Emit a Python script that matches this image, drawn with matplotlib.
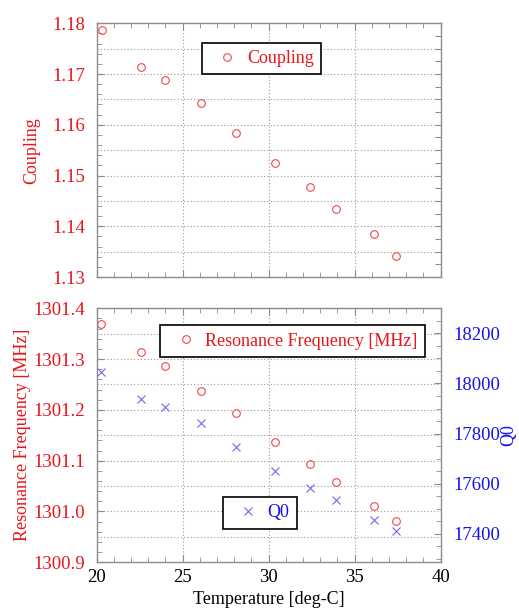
import matplotlib
matplotlib.use("Agg")
import matplotlib.pyplot as plt
import numpy as np
from matplotlib.ticker import MultipleLocator

plt.rcParams['font.family'] = ['Liberation Serif', 'DejaVu Serif']

temp_c = [20.3, 22.58, 23.99, 26.09, 28.1, 30.39, 32.4, 33.9, 36.1, 37.4]
coupling = [1.1787, 1.1713, 1.1688, 1.1643, 1.1584, 1.1524, 1.1477, 1.1435, 1.1384, 1.1342]

temp_b = [20.25, 22.59, 23.98, 26.07, 28.08, 30.37, 32.38, 33.91, 36.11, 37.39]
freq = [1301.369, 1301.313, 1301.287, 1301.237, 1301.193, 1301.137, 1301.094, 1301.0575, 1301.011, 1300.981]
q0 = [18044, 17938, 17905, 17841, 17745, 17651, 17582, 17534, 17457, 17410]

RED = '#e8141c'
BLUE = '#1414e6'
MRED = '#f04848'
MBLUE = '#6a6af0'
SPINE = '#8c8c8c'
TFS = 13.5
LFS = 13

fig = plt.figure(figsize=(5.19, 6.08), dpi=100)

def style(ax):
    for s in ax.spines.values():
        s.set_color(SPINE)
        s.set_linewidth(1.0)
    ax.tick_params(which='both', direction='in', color=SPINE, top=True, labelsize=TFS)
    ax.tick_params(which='major', length=5)
    ax.tick_params(which='minor', length=3.5)
    ax.tick_params(axis='y', pad=8)
    ax.tick_params(axis='x', pad=5)

def legstyle(leg, color):
    leg.get_frame().set_edgecolor('black')
    leg.get_frame().set_linewidth(1.2)
    for t in leg.get_texts():
        t.set_color(color)

LEGKW = dict(loc='center', fontsize=LFS, frameon=True, fancybox=False,
             handletextpad=0.1, borderpad=0.4, handlelength=2.0, framealpha=1)

# ---------- top panel ----------
ax1 = fig.add_axes([0.186, 0.5444, 0.663, 0.4173])
ax1.plot(temp_c, coupling, linestyle='none', marker='o', ms=5.5, mfc='none',
         mec=MRED, mew=0.8, label='Coupling')
ax1.set_xlim(20, 40)
ax1.set_ylim(1.13, 1.18)
style(ax1)
ax1.tick_params(right=False)
ax1.yaxis.set_minor_locator(MultipleLocator(0.002))
ax1.xaxis.set_major_locator(MultipleLocator(5))
ax1.xaxis.set_minor_locator(MultipleLocator(1))
ax1.tick_params(axis='x', labelbottom=False)
ax1.tick_params(axis='y', labelcolor=RED)
ax1.set_yticks(np.arange(1.13, 1.181, 0.01))
ax1.set_yticklabels([f"{v:.2f}" for v in np.arange(1.13, 1.181, 0.01)])
ax1.set_ylabel('Coupling', color=RED, fontsize=LFS, labelpad=9)
for x in [25, 30, 35]:
    ax1.axvline(x, color='#999999', ls=(0, (1, 2)), lw=0.8, zorder=0)
for y in np.arange(1.135, 1.18, 0.005):
    ax1.axhline(y, color='#999999', ls=(0, (1, 2)), lw=0.8, zorder=0)
ax1r = ax1.twinx()
ax1r.set_ylim(1.13, 1.18)
for s in ax1r.spines.values():
    s.set_visible(False)
ax1r.yaxis.set_major_locator(MultipleLocator(0.0025))
ax1r.tick_params(axis='y', direction='in', color=SPINE, length=4, labelright=False)
leg = ax1.legend(bbox_to_anchor=(0.504, 0.9038), bbox_transform=fig.transFigure, **LEGKW)
legstyle(leg, RED)

# ---------- bottom panel ----------
ax2 = fig.add_axes([0.186, 0.0752, 0.663, 0.4178])
ax2.plot(temp_b, freq, linestyle='none', marker='o', ms=5.5, mfc='none',
         mec=MRED, mew=0.8, label='Resonance Frequency [MHz]')
ax2.set_xlim(20, 40)
ax2.set_ylim(1300.9, 1301.4)
style(ax2)
ax2.tick_params(right=False)
ax2.yaxis.set_minor_locator(MultipleLocator(0.02))
ax2.xaxis.set_minor_locator(MultipleLocator(1))
ax2.tick_params(axis='y', labelcolor=RED)
yt = np.arange(1300.9, 1301.41, 0.1)
ax2.set_yticks(yt)
ax2.set_yticklabels([f"{v:.1f}" for v in yt])
ax2.set_xticks([20, 25, 30, 35, 40])
ax2.set_xticklabels(['20', '25', '30', '35', '40'])
ax2.set_xlabel('Temperature [deg-C]', fontsize=LFS, labelpad=3.5)
ax2.set_ylabel('Resonance Frequency [MHz]', color=RED, fontsize=LFS, labelpad=2)
for x in [25, 30, 35]:
    ax2.axvline(x, color='#999999', ls=(0, (1, 2)), lw=0.8, zorder=0)
for y in np.arange(1300.95, 1301.4, 0.05):
    ax2.axhline(y, color='#999999', ls=(0, (1, 2)), lw=0.8, zorder=0)

ax3 = ax2.twinx()
ax3.plot(temp_b, q0, linestyle='none', marker='x', ms=6, mec=MBLUE, mew=0.8, label='Q0')
ax3.set_ylim(17287, 18300)
for s in ax3.spines.values():
    s.set_visible(False)
ax3.yaxis.set_major_locator(MultipleLocator(200))
ax3.yaxis.set_minor_locator(MultipleLocator(50))
ax3.tick_params(axis='y', which='both', direction='in', color=SPINE, labelcolor=BLUE,
                labelsize=TFS, pad=9)
ax3.tick_params(axis='y', which='major', length=5)
ax3.tick_params(axis='y', which='minor', length=3.5)
ax3.set_ylabel('Q0', color=BLUE, fontsize=LFS, rotation=90, labelpad=0)

leg2 = ax2.legend(bbox_to_anchor=(0.564, 0.4388), bbox_transform=fig.transFigure, **LEGKW)
legstyle(leg2, RED)
leg3 = ax3.legend(bbox_to_anchor=(0.5003, 0.1564), bbox_transform=fig.transFigure, **LEGKW)
legstyle(leg3, BLUE)

fig.savefig('out.png', dpi=100)
